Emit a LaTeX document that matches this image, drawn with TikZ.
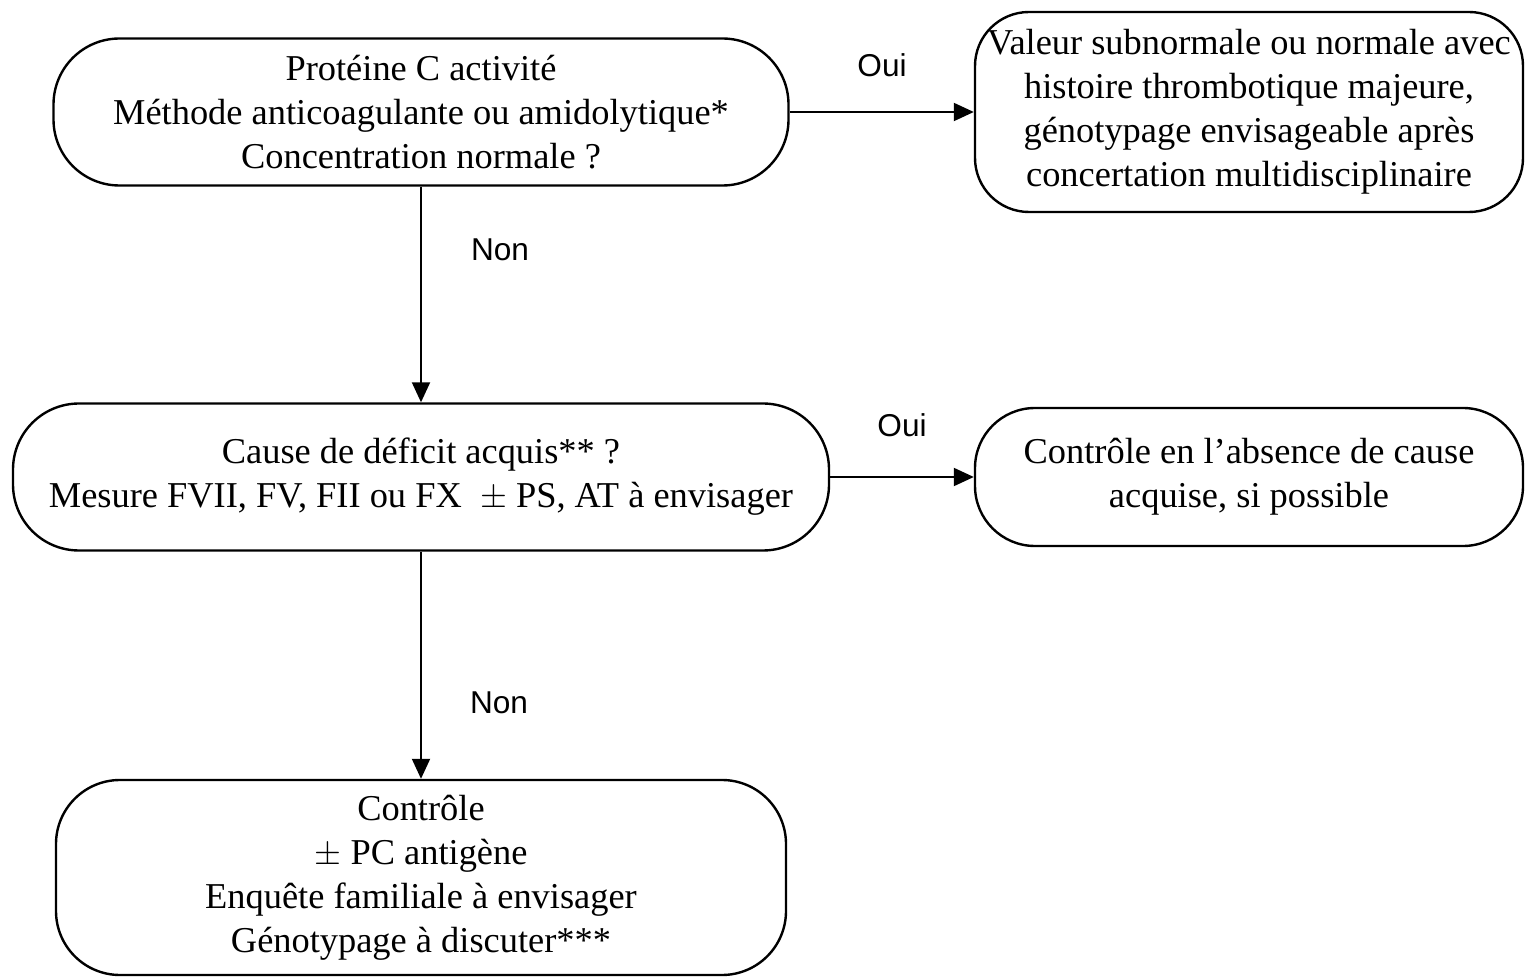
\documentclass[tikz,border=0pt]{standalone}
\usepackage{fontspec}
\setmainfont{Liberation Serif}
\newfontfamily\labelfont{Liberation Sans}
\usetikzlibrary{arrows.meta}
\begin{document}
\begin{tikzpicture}[x=0.5pt,y=-0.5pt,
  box/.style={draw, line width=1.2pt, rounded corners=33pt, align=center,
    inner sep=0pt, font=\fontsize{18.2}{22}\selectfont},
  arr/.style={line width=1pt, -{Triangle[length=10pt,width=9pt]}},
  lbl/.style={font=\labelfont\fontsize{15.8}{19}\selectfont, inner sep=0pt}]
\useasboundingbox (0,0) rectangle (1526,978);

% decision and outcome boxes
\node[box, minimum width=367.5pt, minimum height=73.5pt] (A) at (421,112)
  {Protéine C activité\\Méthode anticoagulante ou amidolytique*\\Concentration normale ?};
\node[box, minimum width=274pt, minimum height=100pt, rounded corners=27pt] (B) at (1249,112)
  {Valeur subnormale ou normale avec\\histoire thrombotique majeure,\\génotypage envisageable après\\concertation multidisciplinaire};
\node[box, minimum width=408pt, minimum height=73.5pt] (C) at (421,477)
  {Cause de déficit acquis** ?\\Mesure FVII, FV, FII ou FX ~$\pm$ PS, AT à envisager};
\node[box, minimum width=274pt, minimum height=69pt, rounded corners=30pt] (D) at (1249,477)
  {Contrôle en l’absence de cause\\acquise, si possible};
\node[box, minimum width=365pt, minimum height=97.5pt, rounded corners=32pt] (E) at (421,877.5)
  {Contrôle\\$\pm$ PC antigène\\Enquête familiale à envisager\\Génotypage à discuter***};

% connectors
\draw[arr] (A.east) -- (B.west);
\draw[arr] (A.south) -- (C.north);
\draw[arr] (C.east) -- (C.east -| D.west);
\draw[arr] (C.south) -- (E.north);

% branch labels
\node[lbl] (oui1) at (882,65) {Oui};
\node[lbl] (non1) at (500,250) {Non};
\node[lbl] (oui2) at (902,425) {Oui};
\node[lbl] (non2) at (499,703) {Non};
\end{tikzpicture}
\end{document}
